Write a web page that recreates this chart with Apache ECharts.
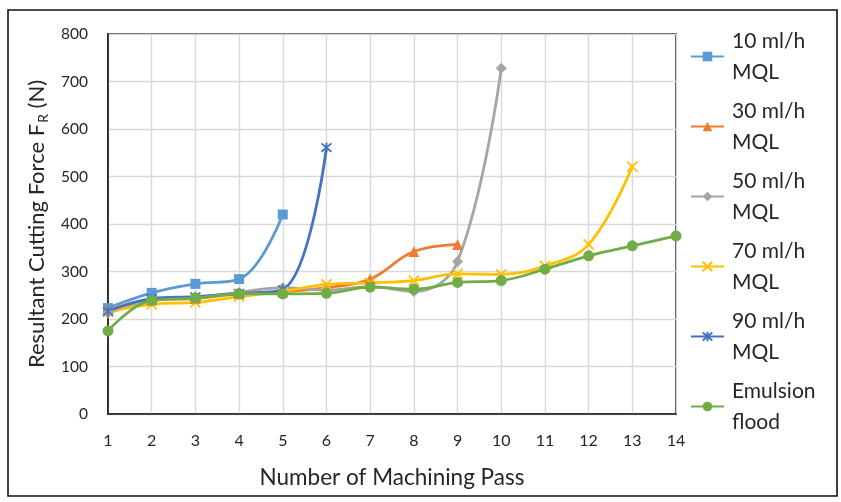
<!DOCTYPE html>
<html>
<head>
<meta charset="utf-8">
<script src="https://cdn.jsdelivr.net/npm/echarts@6/dist/echarts.min.js"></script>
<style>
  html, body { margin: 0; padding: 0; background: #fff; }
  #chart { width: 841px; height: 502px; }
</style>
</head>
<body>
<div id="chart"></div>
<script>
// Machining passes along the x axis
const passes = ['1', '2', '3', '4', '5', '6', '7', '8', '9', '10', '11', '12', '13', '14'];

// Resultant cutting force F_R (N) per pass, one array per lubrication condition
const mql10 = [223, 255, 274, 284, 420];
const mql30 = [218, 240, 243, 253, 257, 266, 284, 342, 357];
const mql50 = [212, 238, 245, 256, 266, 261, 268, 258, 321, 728];
const mql70 = [215, 231, 235, 247, 258, 273, 276, 281, 295, 294, 312, 357, 521];
const mql90 = [216, 243, 247, 254, 262, 561];
const emulsion = [175, 239, 244, 253, 253, 254, 267, 263, 277, 281, 305, 333, 354, 375];

const seriesNames = ['10 ml/h\nMQL', '30 ml/h\nMQL', '50 ml/h\nMQL', '70 ml/h\nMQL', '90 ml/h\nMQL', 'Emulsion\nflood'];

// Y axis range and tick step
const yMin = 0, yMax = 800, yStep = 100;

const FONT = 'Lato';
const TEXT = '#262626';

const crossPath = 'path://M0,0L10,10M10,0L0,10';
const starPath = 'path://M0,0L10,10M10,0L0,10M5,-1L5,11';

function lineSeries(name, data, color, symbol, size, stroked) {
  return {
    name: name,
    type: 'line',
    data: data,
    smooth: 0.4,
    symbol: symbol,
    symbolSize: size,
    showAllSymbol: true,
    lineStyle: { width: 2.8, color: color },
    itemStyle: stroked
      ? { color: color, borderColor: color, borderWidth: 1.8 }
      : { color: color },
    emphasis: { disabled: true },
    z: 3
  };
}

const chart = echarts.init(document.getElementById('chart'), null, { renderer: 'canvas' });

chart.setOption({
  animation: false,
  backgroundColor: '#fff',
  textStyle: { fontFamily: FONT },
  grid: {
    left: 108, top: 34, right: 165, bottom: 88,
    show: true, borderColor: '#1a1a1a', borderWidth: 1.6, backgroundColor: 'transparent'
  },
  graphic: [{
    type: 'rect',
    shape: { x: 8, y: 10, width: 829, height: 486 },
    style: { fill: 'none', stroke: '#111', lineWidth: 1.6 },
    silent: true, z: 0
  }],
  legend: {
    orient: 'vertical',
    left: 690,
    top: 10,
    padding: 0,
    itemWidth: 33,
    itemHeight: 12,
    itemGap: -23,
    data: seriesNames,
    textStyle: {
      fontFamily: FONT, fontSize: 21, color: TEXT,
      lineHeight: 31, padding: [31, 0, 0, 3]
    }
  },
  xAxis: {
    type: 'category',
    data: passes,
    boundaryGap: false,
    name: 'Number of Machining Pass',
    nameLocation: 'middle',
    nameGap: 52,
    nameTextStyle: { fontFamily: FONT, fontSize: 22.5, color: TEXT },
    axisLine: { show: true, lineStyle: { color: '#1a1a1a', width: 1.6 } },
    axisTick: { show: false },
    axisLabel: { fontFamily: FONT, fontSize: 16, color: TEXT, margin: 19 },
    splitLine: { show: true, lineStyle: { color: '#d9d9d9', width: 1.4 } }
  },
  yAxis: {
    type: 'value',
    min: yMin, max: yMax, interval: yStep,
    name: '{t|Resultant Cutting Force F}{s|R}{t| (N)}',
    nameLocation: 'middle',
    nameGap: 58,
    nameRotate: 90,
    nameTextStyle: {
      rich: {
        t: { fontFamily: FONT, fontSize: 22, color: TEXT, lineHeight: 27 },
        s: { fontFamily: FONT, fontSize: 14, color: TEXT, lineHeight: 27, verticalAlign: 'bottom', padding: [0, 0, 0, 1] }
      }
    },
    axisLine: { show: true, lineStyle: { color: '#1a1a1a', width: 1.6 } },
    axisTick: { show: false },
    axisLabel: { fontFamily: FONT, fontSize: 15.5, color: TEXT, margin: 20 },
    splitLine: { show: true, lineStyle: { color: '#d9d9d9', width: 1.4 } }
  },
  series: [
    lineSeries(seriesNames[0], mql10, '#5B9BD5', 'rect', 10, false),
    lineSeries(seriesNames[1], mql30, '#ED7D31', 'triangle', 11, false),
    lineSeries(seriesNames[2], mql50, '#A5A5A5', 'diamond', 11, false),
    lineSeries(seriesNames[3], mql70, '#FFC000', crossPath, 10, true),
    lineSeries(seriesNames[4], mql90, '#4472C4', starPath, 10, true),
    lineSeries(seriesNames[5], emulsion, '#70AD47', 'circle', 11, false)
  ]
});
</script>
</body>
</html>
